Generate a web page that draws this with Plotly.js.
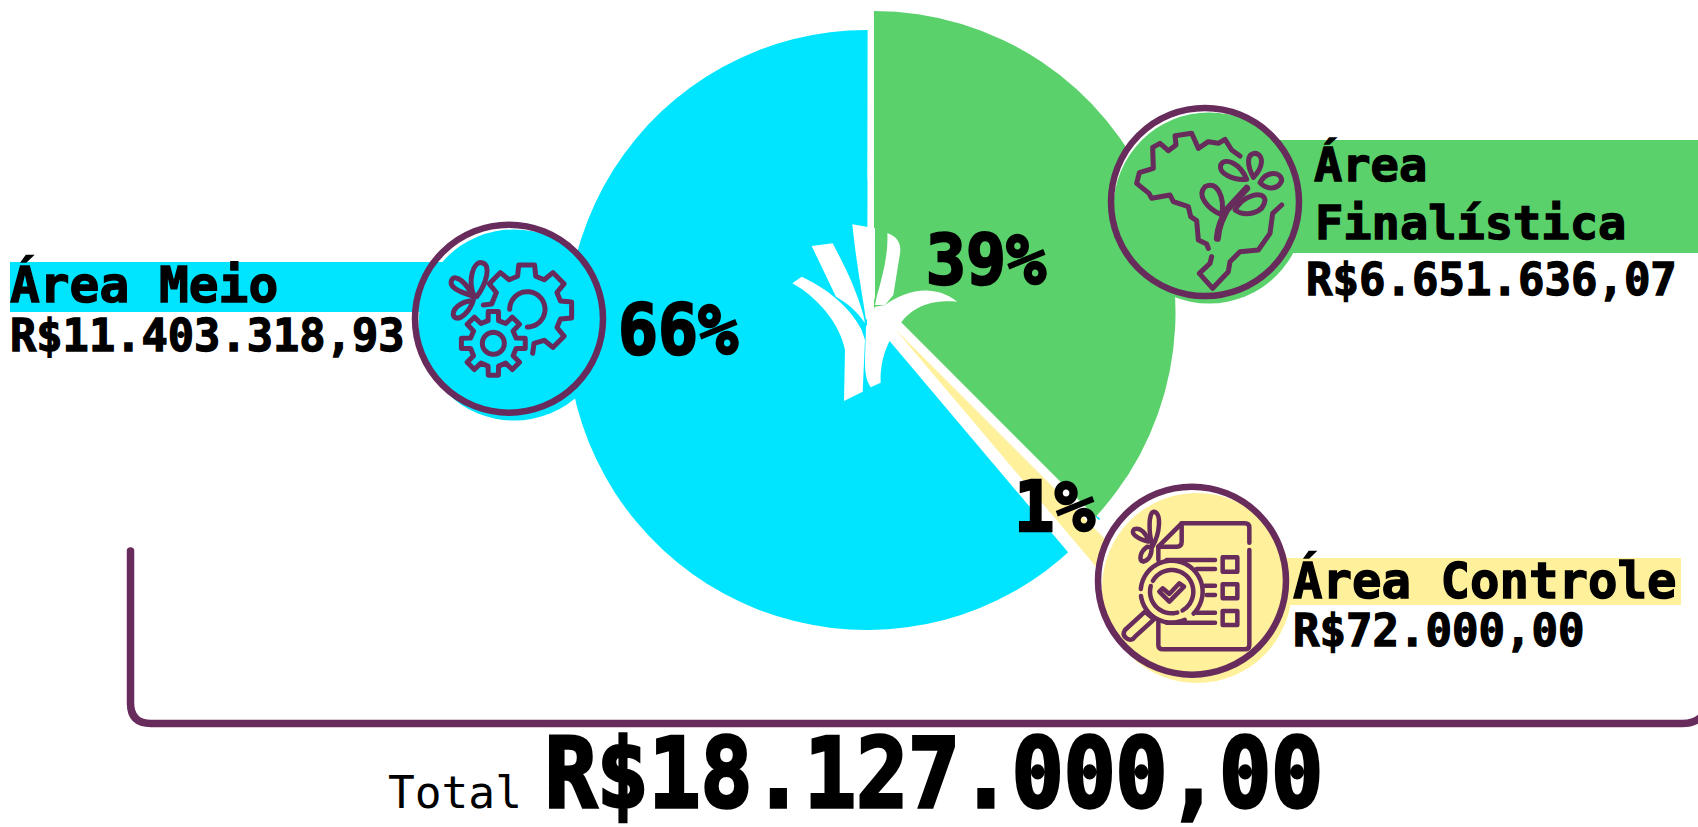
<!DOCTYPE html>
<html><head><meta charset="utf-8">
<script src="https://cdn.plot.ly/plotly-3.0.1.min.js"></script>
<style>
html,body{margin:0;padding:0;background:#fff;overflow:hidden}
.shapelayer path{stroke-linejoin:round;stroke-linecap:round}
</style></head><body><div id="chart" style="width:1698px;height:827px"></div>
<script>
// ---------- data ----------
const categories   = ['Área Finalística', 'Área Controle', 'Área Meio'];
const amounts      = ['R$6.651.636,07', 'R$72.000,00', 'R$11.403.318,93'];
const percentTexts = ['39%', '1%', '66%'];
const sliceShares  = [37.5, 1.33, 64.2];   // slice sweep, % of a full turn
const sliceStarts  = [0, 135, 129];        // slice start, degrees clockwise from 12 o'clock
const totalAmount  = 'R$18.127.000,00';
const totalWord    = 'Total';
const sliceColors  = ['#5AD16B', '#FFF09C', '#00E5FF'];
const ink = '#672C5C';

const W = 1698, H = 827, NONE = 'rgba(0,0,0,0)';
const fx = x => x / W, fy = y => 1 - y / H;

function slicePie(i, cx, cy, r, color, lineW, extra) {
  const add = extra || 0;
  return {
    type: 'pie', sort: false, direction: 'clockwise', rotation: sliceStarts[i] - add * 3.6,
    values: [sliceShares[i] + add, 100 - sliceShares[i] - add],
    labels: [categories[i], 'resto'],
    marker: { colors: [color, NONE], line: { color: '#fff', width: [lineW, 0] } },
    textinfo: 'none', hoverinfo: 'skip', showlegend: false, automargin: false,
    domain: { x: [fx(cx - r), fx(cx + r)], y: [fy(cy + r), fy(cy - r)] }
  };
}
const traces = [
  slicePie(2, 867, 330, 300, sliceColors[2], 0),
  slicePie(2, 867, 330, 150, sliceColors[2], 0, 5.2),  // inner part of the blue slice, under the white cut
  slicePie(0, 874, 312.5, 301.5, sliceColors[0], 0),
  slicePie(1, 894, 330, 320, '#fff', 21),
  slicePie(1, 895, 329, 320, sliceColors[1], 0)
];

// ---------- decoration helpers ----------
// paths are written in crop coordinates (3x, from origin ox,oy) and mapped to the paper
function P(str, ox, oy, scale) {
  const s = scale || 3; let isX = true;
  return str.replace(/-?\d+(\.\d+)?/g, m => {
    const v = parseFloat(m), out = isX ? fx(ox + v / s) : fy(oy + v / s);
    isX = !isX; return out.toFixed(5);
  });
}
const pol = (cx, cy, r, a) => [cx + r * Math.sin(a * Math.PI / 180), cy - r * Math.cos(a * Math.PI / 180)];
function arc(cx, cy, r, a0, a1, move) {
  let s = '';
  for (let a = a0, k = 0; ; a += 8, k++) {
    const aa = Math.min(a, a1), p = pol(cx, cy, r, aa);
    s += ((k === 0 && move) ? 'M' : 'L') + p[0].toFixed(1) + ' ' + p[1].toFixed(1) + ' ';
    if (aa >= a1) break;
  }
  return s;
}
function teeth(cx, cy, rr, rt, n, ids, w1, w2) {
  let s = '';
  ids.forEach(i => {
    const a = i * 360 / n;
    [[rr, a - w2], [rt, a - w1], [rt, a + w1], [rr, a + w2]].forEach(q => {
      const p = pol(cx, cy, q[0], q[1]); s += 'L' + p[0].toFixed(1) + ' ' + p[1].toFixed(1) + ' ';
    });
  });
  return s;
}
const stroke = (path, w, fill) => ({ type: 'path', xref: 'paper', yref: 'paper', layer: 'above', path,
  line: { color: ink, width: w }, fillcolor: fill || NONE });
const filled = (path, color) => ({ type: 'path', xref: 'paper', yref: 'paper', layer: 'above', path,
  line: { width: 0 }, fillcolor: color });
const circ = (cx, cy, r, fill, lw) => ({ type: 'circle', xref: 'paper', yref: 'paper', layer: 'above',
  x0: fx(cx - r), x1: fx(cx + r), y0: fy(cy + r), y1: fy(cy - r), fillcolor: fill,
  line: lw ? { color: ink, width: lw } : { width: 0 } });
const rect = (x0, y0, x1, y1, c) => ({ type: 'rect', xref: 'paper', yref: 'paper', layer: 'above',
  x0: fx(x0), x1: fx(x1), y0: fy(y1), y1: fy(y0), fillcolor: c, line: { width: 0 } });

const shapes = [];

// logo in the centre of the pie
const LG = [760, 200];
[
 'M97 250 L125 230 C200 265 270 320 305 390 L315 420 L308 575 L252 603 L255 450 C240 370 170 290 97 250 Z',
 'M155 138 L218 130 C250 190 290 270 310 345 L315 370 C290 330 260 310 228 290 Z',
 'M277 73 L345 85 L345 290 L330 345 L318 360 C310 300 290 200 277 73 Z',
 'M382 100 C410 108 425 130 420 160 L400 285 L375 315 L345 315 L350 290 C370 220 385 160 382 100 Z',
 'M375 315 C440 270 520 250 592 305 C530 300 470 310 425 365 L390 420 C370 460 360 500 362 548 L332 562 C318 540 315 520 315 480 L318 380 L345 320 Z'
].forEach(d => shapes.push(filled(P(d, LG[0], LG[1]), '#fff')));

// bracket
shapes.push(stroke(P('M130.5 551 L130.5 703 Q130.5 723.5 151 723.5 L1682 723.5 Q1695 723.5 1702 716', 0, 0, 1), 7.5));

// icon: white disc, band, offset fill, ring
shapes.push(circ(509, 318.7, 96, '#fff'));
shapes.push(rect(10, 262, 450, 312, sliceColors[2]));
shapes.push(circ(514, 325, 95.5, sliceColors[2]));
shapes.push(circ(509, 318.7, 94, NONE, 6.5));

shapes.push(circ(1205, 202, 96, '#fff'));
shapes.push(rect(1250, 140, 1698, 253, sliceColors[0]));
shapes.push(circ(1209, 208, 95.5, sliceColors[0]));
shapes.push(circ(1205, 202, 94, NONE, 6.5));

shapes.push(circ(1192, 580.7, 96, '#fff'));
shapes.push(rect(1285, 558, 1681, 605, sliceColors[1]));
shapes.push(circ(1197, 588, 95, sliceColors[1]));
shapes.push(circ(1192, 580.7, 94, NONE, 6.5));

// gears icon
const A = [380, 180];
[
 'M310 375 L335 372 ' + teeth(440, 390, 105, 137, 8, [-1, 0, 1, 2, 3], 10, 15) + 'L462 490 L458 520',
 arc(442, 388, 53, -90, 180, true),
 'M' + teeth(340, 490, 70, 97, 8, [0, 1, 2, 3, 4, 5, 6, 7], 9, 13).slice(1) + 'Z',
 arc(340, 490, 33, 0, 360, true) + 'Z',
 'M282 348 C262 300 280 245 305 248 C335 252 320 310 290 350 Z',
 'M278 348 C235 335 205 320 215 300 C228 280 260 310 278 348 Z',
 'M275 362 C240 365 212 390 222 410 C238 425 270 395 280 360 Z'
].forEach(d => shapes.push(stroke(P(d, A[0], A[1]), 5)));

// Brazil icon
const B = [1080, 90];
[
 'M480 198 L455 180 L435 148 L415 160 L385 155 L355 175 L335 130 L285 137 L288 165 L265 182 L240 160 L218 172 L220 235 L178 248 L170 280 L207 310 L215 325 L270 315 L280 335 L325 350 L332 380 L350 392 L355 450 L380 462 L385 475',
 'M395 500 L390 520 L358 550 L398 595 L445 545 L450 515 L480 485 L535 480 L570 430 L578 370 L605 345',
 'M500 268 C460 272 415 250 422 225 C435 200 480 220 500 268 Z',
 'M520 262 C500 225 500 192 525 190 C555 195 548 235 520 262 Z',
 'M540 278 C560 240 605 245 605 272 C595 300 560 300 540 278 Z',
 'M465 360 C490 315 550 300 555 330 C552 370 495 382 465 360 Z',
 'M425 375 C380 355 350 315 375 290 C410 270 435 320 425 375 Z'
].forEach(d => shapes.push(stroke(P(d, B[0], B[1]), 5)));
shapes.push(stroke(P('M500 295 L440 360 C425 390 415 410 412 445', B[0], B[1]), 7));

// checklist icon
const C = [1000, 470];
[
 'M475 270 L475 230 L545 160 L735 160 Q748 160 748 173 L748 218',
 'M748 240 L748 525 Q748 538 735 538 L490 538 Q475 538 475 525 L475 455',
 'M475 230 L530 230 Q545 230 545 215 L545 160',
 'M500 270 L645 270', 'M590 297 L645 297', 'M615 347 L645 347', 'M620 375 L645 375', 'M590 428 L645 428', 'M500 458 L645 458',
 'M668 262 L712 262 L712 305 L668 305 Z', 'M668 343 L712 343 L712 385 L668 385 Z', 'M668 423 L712 423 L712 465 L668 465 Z',
 arc(515, 365, 93, -85, 135, true), arc(515, 365, 93, 155, 262, true),
 arc(515, 365, 65, -60, 150, true), arc(515, 365, 65, 165, 285, true),
 'M478 365 L488 355 L508 372 L538 340 L552 350 L508 395 Z',
 'M435 425 L375 480 Q365 495 380 505 Q395 515 405 500 L462 448 Z',
 'M458 228 C445 190 445 125 462 125 C485 130 480 190 458 228 Z',
 'M445 215 C410 205 390 190 402 178 C420 170 440 190 445 215 Z',
 'M442 230 C420 245 415 270 430 275 C450 270 455 250 455 232 Z'
].forEach(d => shapes.push(stroke(P(d, C[0], C[1]), 4.5)));

// ---------- text ----------
const MONO = '"DejaVu Sans Mono", monospace';
function label(text, x, base, size, weight) {
  return { text, x: fx(x), y: fy(base + 0.236 * size), xref: 'paper', yref: 'paper',
    xanchor: 'left', yanchor: 'bottom', align: 'left', showarrow: false, borderpad: 0, borderwidth: 0,
    font: { family: MONO, size, color: '#000', weight: weight || 700 } };
}
const annotations = [
  label('Área', 1314, 181, 47), label('Finalística', 1315, 239, 47), label(amounts[0], 1306, 295, 44),
  label(categories[1], 1293, 598, 49), label(amounts[1], 1293, 646, 44),
  label(categories[2], 10, 302, 49.5), label(amounts[2], 10, 351, 43.7),
  label(percentTexts[2], 618, 354, 70), label(percentTexts[0], 926, 284, 70), label(percentTexts[1], 1014, 531, 70),
  label(totalWord, 388, 807, 44.5, 400), label(totalAmount, 545, 807, 96)
];

// text widths and extra weight
const fit = { '66%': [120, 2.5], '39%': [120, 2.5], '1%': [81, 2.5], 'R$18.127.000,00': [778, 3.5] };
function tuneText() {
  document.querySelectorAll('.annotation-text').forEach(t => {
    const f = fit[t.textContent];
    if (f) { t.setAttribute('textLength', f[0]); t.setAttribute('lengthAdjust', 'spacingAndGlyphs'); }
    const sw = f ? f[1] : (t.textContent === totalWord ? 0 : 1.3);
    if (sw) { t.style.stroke = '#000'; t.style.strokeWidth = sw + 'px'; }
  });
}

Plotly.newPlot('chart', traces, {
  width: W, height: H, margin: { l: 0, r: 0, t: 0, b: 0, pad: 0 },
  paper_bgcolor: '#fff', plot_bgcolor: '#fff', showlegend: false, shapes, annotations
}, { displayModeBar: false, responsive: false }).then(tuneText);
</script></body></html>
